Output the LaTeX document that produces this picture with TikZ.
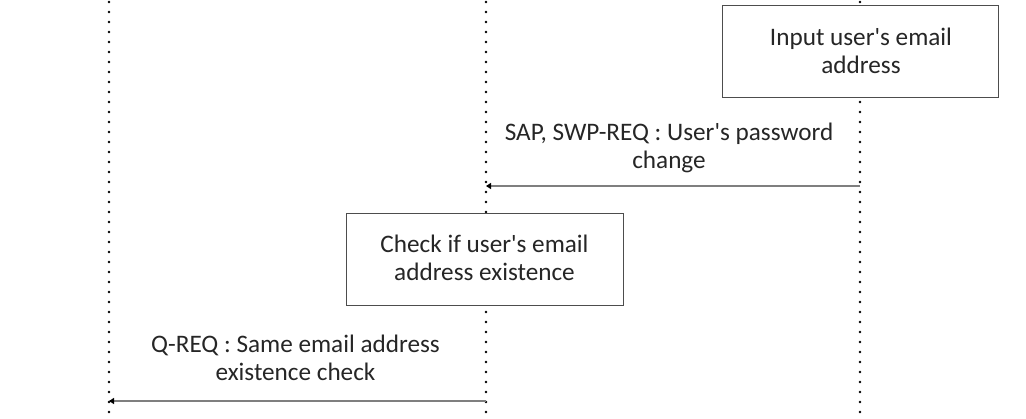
\documentclass[tikz,border=0pt]{standalone}
\usepackage{fontspec}
\setmainfont{Carlito}[Ligatures=TeXReset]
\usetikzlibrary{arrows.meta}
\definecolor{txt}{HTML}{262626}
\definecolor{boxline}{HTML}{4D4D4D}
\definecolor{msgline}{HTML}{7F7F7F}
\tikzset{
  lifeline/.style={draw=black, line width=2.6pt, line cap=round, dash pattern=on 0pt off 10pt},
  actbox/.style={draw=boxline, line width=1pt, fill=white, minimum width=276pt, minimum height=92pt, inner sep=0pt},
  lbl/.style={text=txt, align=center, font=\fontsize{25.2}{28}\selectfont, inner sep=0pt},
  msg/.style={draw=msgline, line width=1.4pt, -{Triangle[length=5pt,width=6pt,fill=black,color=black]}}
}
\begin{document}
\begin{tikzpicture}[x=1pt,y=-1pt]
\useasboundingbox (0,0) rectangle (1026,418);
% lifelines
\coordinate (LT) at (109,2);
\coordinate (LB) at (109,418);
\coordinate (MT) at (486,2);
\coordinate (MB) at (486,418);
\coordinate (RT) at (860,2);
\coordinate (RB) at (860,418);
\draw[lifeline] (LT) -- (LB);
\draw[lifeline] (MT) -- (MB);
\draw[lifeline] (RT) -- (RB);
% boxes
\node[actbox] (input) at (860,51) {};
\node[lbl, anchor=base] (inputtxt) at (861,73) {Input user's email\\address};
\node[actbox, minimum width=277pt] (check) at (484.5,259) {};
\node[lbl, anchor=base] (checktxt) at (484.5,280) {Check if user's email\\address existence};
% messages
\coordinate (m1s) at (860,186);
\coordinate (m1e) at (486,186);
\draw[msg] (m1s) -- (m1e);
\node[lbl, anchor=base] (m1txt) at (669,168) {SAP, SWP-REQ : User's password\\change};
\coordinate (m2s) at (486,401);
\coordinate (m2e) at (109,401);
\draw[msg] (m2s) -- (m2e);
\node[lbl, anchor=base] (m2txt) at (295.5,380) {Q-REQ : Same email address\\existence check};
\end{tikzpicture}
\end{document}
